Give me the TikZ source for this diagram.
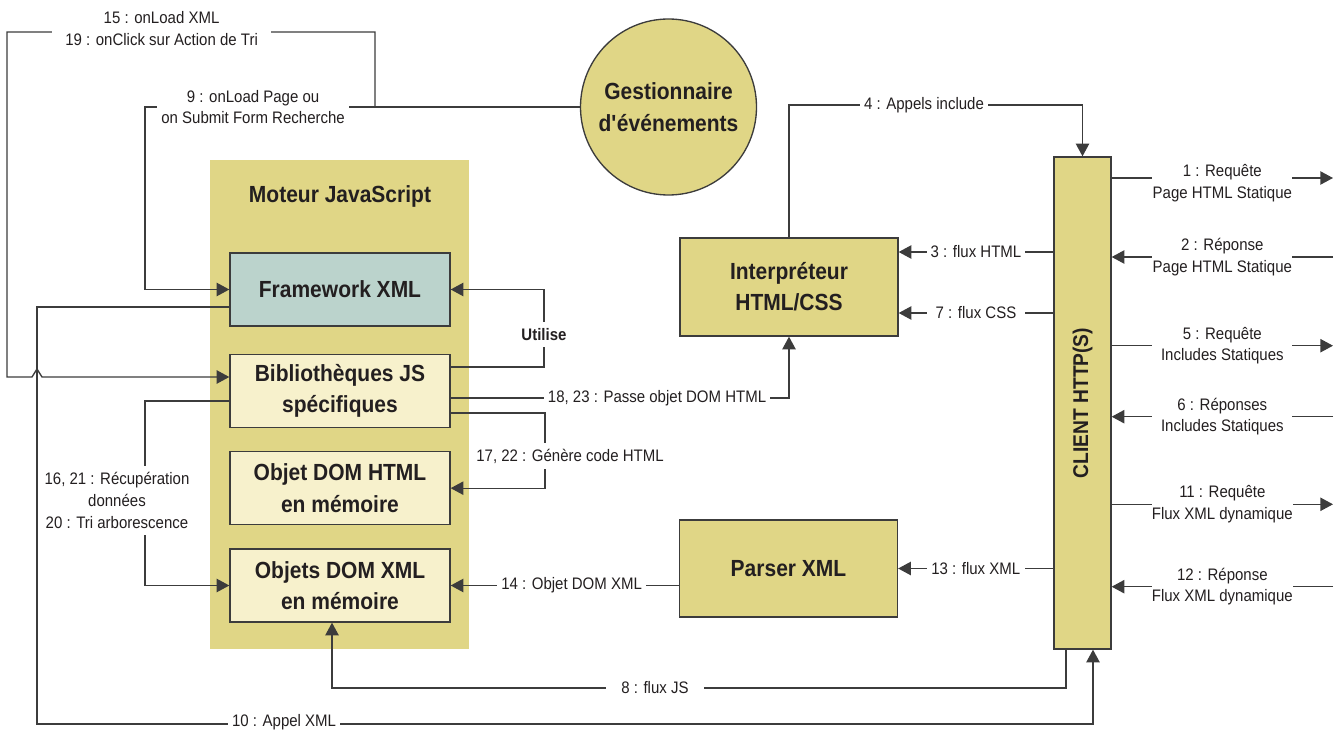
\documentclass[tikz,border=0pt]{standalone}
\usepackage{fontspec}
\setmainfont[FakeStretch=0.9]{Liberation Sans}
\usetikzlibrary{arrows.meta,positioning}
\definecolor{panel}{RGB}{224,214,134}
\definecolor{fwcol}{RGB}{187,211,204}
\definecolor{cream}{RGB}{247,241,204}
\definecolor{ink}{RGB}{35,31,32}
\definecolor{wire}{RGB}{60,60,60}
\newcommand\boxfont{\fontsize{17.5}{23.5}\selectfont\bfseries}
\newcommand\lblfont{\fontsize{12.5}{16.3}\selectfont}
\tikzset{>={Triangle[length=9.5pt,width=10pt]}}
\tikzset{
    box/.style={draw=wire,line width=1pt,text=ink,font=\boxfont,align=center,
        minimum width=165pt,minimum height=54.75pt,inner sep=0pt},
    jsbox/.style={box,fill=cream},
    flow/.style={draw=wire,line width=1pt},
    lbl/.style={fill=white,text=ink,font=\lblfont,align=center,inner xsep=3pt,inner ysep=2pt},
    flux/.style={lbl,minimum width=73.5pt},
    rlbl/.style={lbl,minimum width=105pt,inner xsep=0pt}
}

\begin{document}
\begin{tikzpicture}[x=0.75pt,y=-0.75pt]
            \useasboundingbox (0,0) rectangle (1343,731);
            % moteur javascript
            \fill[panel] (210,160) rectangle (469,649);
            \node[text=ink,font=\boxfont] (moteur) at (340,196) {Moteur JavaScript};
            \node[box,fill=fwcol] (fw) at (340,289.5) {Framework XML};
            \node[jsbox,below=20.25pt of fw] (bib) {Biblioth\`eques JS\\sp\'ecifiques};
            \node[jsbox,below=17.25pt of bib] (dom) {Objet DOM HTML\\en m\'emoire};
            \node[jsbox,below=17.25pt of dom] (xml) {Objets DOM XML\\en m\'emoire};
            % navigateur
            \node[box,fill=panel,circle,minimum size=132pt] (ges) at (668.5,107) {Gestionnaire\\d\textquotesingle\'ev\'enements};
            \node[box,fill=panel,minimum width=163.5pt,minimum height=73.5pt] (interp) at (789,287) {Interpr\'eteur\\HTML/CSS};
            \node[box,fill=panel,minimum width=163.5pt,minimum height=72.75pt] (parser) at (788.5,568.5) {Parser XML};
            \node[box,fill=panel,minimum width=42.75pt,minimum height=369pt] (client) at (1082.5,403) {};
            \node[rotate=90,text=ink,font=\fontsize{16}{20}\selectfont\bfseries] at (client) {CLIENT HTTP(S)};
            % points
            \coordinate (j9) at (375,107);
            \coordinate (j8) at (332,688);
            \coordinate (c4) at (client.north |- 0,105);
            \coordinate (r1) at (1333,178);
            \coordinate (r2) at (1333,257);
            \coordinate (r5) at (1333,345.7);
            \coordinate (r6) at (1333,416.7);
            \coordinate (r11) at (1333,504.3);
            \coordinate (r12) at (1333,586.7);
            % serveur
            \draw[flow,->] (client.east |- r1) -- node[rlbl,yshift=-3.8pt] {1 : Requ\^ete\\Page HTML Statique} (r1);
            \draw[flow,->] (r2) -- node[rlbl] {2 : R\'eponse\\Page HTML Statique} (client.east |- r2);
            \draw[flow,->] (client.east |- r5) -- node[rlbl] {5 : Requ\^ete\\Includes Statiques} (r5);
            \draw[flow,->] (r6) -- node[rlbl] {6 : R\'eponses\\Includes Statiques} (client.east |- r6);
            \draw[flow,->] (client.east |- r11) -- node[rlbl] {11 : Requ\^ete\\Flux XML dynamique} (r11);
            \draw[flow,->] (r12) -- node[rlbl] {12 : R\'eponse\\Flux XML dynamique} (client.east |- r12);
            % client
            \draw[flow,->] (interp.north) |- node[lbl,pos=.73] {4 : Appels include} (c4) -- (client.north);
            \draw[flow,->] (client.west |- 0,252) -- node[flux] {3 : flux HTML} (interp.east |- 0,252);
            \draw[flow,->] (client.west |- 0,313) -- node[flux] {7 : flux CSS} (interp.east |- 0,313);
            \draw[flow,->] (client.west |- parser.east) -- node[flux] {13 : flux XML} (parser.east);
            \draw[flow,->] (parser.west |- xml.east) -- node[lbl,pos=.47] {14 : Objet DOM XML} (xml.east);
            \draw[flow,->] (client.south -| 1066,0) |- node[flux,pos=.78] {8 : flux JS} (j8) -- (xml.south -| j8);
            \draw[flow,->] (fw.west |- 0,307) -| (37,724) -| node[lbl,pos=.117,yshift=1.5pt] {10 : Appel XML} (client.south -| 1093,0);
            % moteur
            \draw[flow,->] (bib.east |- 0,367) -| node[lbl,pos=.71,inner ysep=5pt,font=\lblfont\bfseries] {Utilise} (fw.east -| 544,0) -- (fw.east);
            \draw[flow,->] (bib.east |- 0,398) -| node[lbl,pos=.305] {18, 23 : Passe objet DOM HTML} (interp.south);
            \draw[flow,->] (bib.east |- 0,413) -| (dom.east -| 545,0) -- (dom.east);
            \node[lbl,inner ysep=4pt] (l17) at (570,456) {17, 22 : G\'en\`ere code HTML};
            \draw[flow,->] (bib.west |- 0,401) -- (145,401) |- (xml.west);
            \node[lbl,inner ysep=5pt] (l16) at (117,500.5) {16, 21 : R\'ecup\'eration\\donn\'ees\\20 : Tri arborescence};
            % evenements
            \draw[flow] (ges.west) -- (j9);
            \draw[flow,->] (j9) -- node[lbl,pos=.53] {9 : onLoad Page ou\\on Submit Form Recherche} (145,107) |- (fw.west);
            \draw[flow,->] (j9) |- node[lbl,pos=.79,yshift=2.6pt,inner xsep=10pt] {15 : onLoad XML\\19 : onClick sur Action de Tri} (7,32)
                |- (32,377) -- (37,369) -- (42,377) -- (bib.west |- 0,377);
\end{tikzpicture}
\end{document}
